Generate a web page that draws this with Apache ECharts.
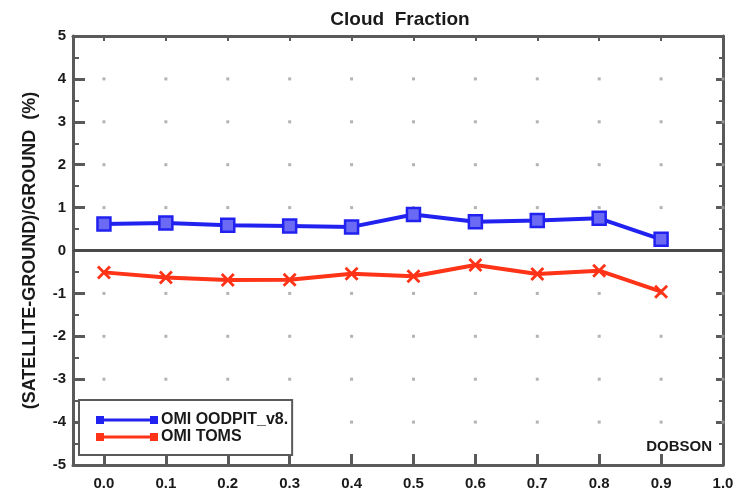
<!DOCTYPE html>
<html>
<head>
<meta charset="utf-8">
<script src="https://cdn.jsdelivr.net/npm/echarts@6/dist/echarts.min.js"></script>
<style>
  html, body { margin: 0; padding: 0; background: #fff; }
  #chart { width: 740px; height: 493px; }
</style>
</head>
<body>
<div id="chart"></div>
<script>
// Cloud fraction bins (x) and relative differences (%) per product
const cloudFraction = [0.0, 0.1, 0.2, 0.3, 0.4, 0.5, 0.6, 0.7, 0.8, 0.9];
const omiSeries1 = [0.62, 0.64, 0.59, 0.57, 0.55, 0.84, 0.67, 0.70, 0.75, 0.26];
const omiToms = [-0.51, -0.63, -0.69, -0.68, -0.54, -0.60, -0.34, -0.55, -0.47, -0.96];
const seriesNames = ['OMI OODPIT_v8.', 'OMI TOMS'];

// Tick positions
const xTicks = [0.0, 0.1, 0.2, 0.3, 0.4, 0.5, 0.6, 0.7, 0.8, 0.9, 1.0];
const yDotRows = [-4, -3, -2, -1, 1, 2, 3, 4];

const FONT = '"Liberation Sans", Arial, sans-serif';
const INK = '#1a1a1a';
const FRAME = '#5a5a5a';
const BLUE = '#2222f0';
const RED = '#ff3318';

// faint dots at grid intersections
const gridDots = [];
xTicks.forEach(x => yDotRows.forEach(y => gridDots.push([x, y])));

// legend sample: short line with a small square at each end
const legendIcon = 'path://M0,0 h8 v8 h-8 Z M54,0 h8 v8 h-8 Z M8,2.5 h46 v3 h-46 Z';
const crossIcon = 'path://M0,2 L2,0 L7,5 L12,0 L14,2 L9,7 L14,12 L12,14 L7,9 L2,14 L0,12 L5,7 Z';

const chart = echarts.init(document.getElementById('chart'), null, { renderer: 'canvas' });

chart.setOption({
  animation: false,
  backgroundColor: '#fff',
  title: {
    text: 'Cloud  Fraction',
    left: 395, textAlign: 'center', top: 5,
    textStyle: { fontFamily: FONT, fontWeight: 'bold', fontSize: 19, color: INK }
  },
  grid: { left: 73, right: 17, top: 36, bottom: 28, containLabel: false },
  legend: {
    orient: 'vertical',
    left: 79, top: 400,
    padding: [12, 4, 10, 17],
    itemWidth: 62, itemHeight: 8, itemGap: 1,
    borderColor: FRAME, borderWidth: 2, backgroundColor: '#fff',
    textStyle: { fontFamily: FONT, fontWeight: 'bold', fontSize: 16, lineHeight: 14, color: INK, padding: [0, 0, 0, -2] },
    data: [
      { name: seriesNames[0], icon: legendIcon, itemStyle: { color: BLUE, borderWidth: 0 } },
      { name: seriesNames[1], icon: legendIcon, itemStyle: { color: RED, borderWidth: 0 } }
    ]
  },
  xAxis: [
    {
      type: 'value', position: 'bottom', min: -0.05, max: 1.0,
      axisLine: { show: true, onZero: false, lineStyle: { color: FRAME, width: 3 } },
      axisTick: { show: true, inside: true, length: 11, customValues: xTicks, lineStyle: { color: FRAME, width: 3 } },
      axisLabel: {
        customValues: xTicks, margin: 11,
        formatter: v => v.toFixed(1),
        fontFamily: FONT, fontWeight: 'bold', fontSize: 15, color: INK
      },
      splitLine: { show: false }
    },
    {
      type: 'value', position: 'top', min: -0.05, max: 1.0,
      axisLine: { show: true, onZero: false, lineStyle: { color: FRAME, width: 3 } },
      axisTick: { show: true, inside: true, length: 5, customValues: xTicks, lineStyle: { color: FRAME, width: 2 } },
      axisLabel: { show: false },
      splitLine: { show: false }
    }
  ],
  yAxis: [
    {
      type: 'value', position: 'left', min: -5, max: 5, interval: 1,
      name: '(SATELLITE-GROUND)/GROUND  (%)',
      nameLocation: 'middle', nameRotate: 90, nameGap: 34,
      nameTextStyle: { fontFamily: FONT, fontWeight: 'bold', fontSize: 18, color: INK },
      axisLine: { show: true, onZero: false, lineStyle: { color: FRAME, width: 3 } },
      axisTick: { show: true, inside: true, length: 12, lineStyle: { color: FRAME, width: 3 } },
      minorTick: { show: true, splitNumber: 2, length: 6, lineStyle: { color: FRAME, width: 2 } },
      axisLabel: { margin: 7, fontFamily: FONT, fontWeight: 'bold', fontSize: 15, color: INK },
      splitLine: { show: false }
    },
    {
      type: 'value', position: 'right', min: -5, max: 5, interval: 1,
      axisLine: { show: true, onZero: false, lineStyle: { color: FRAME, width: 3 } },
      axisTick: { show: true, inside: true, length: 7, lineStyle: { color: FRAME, width: 3 } },
      minorTick: { show: true, splitNumber: 2, length: 4, lineStyle: { color: FRAME, width: 2 } },
      axisLabel: { show: false },
      splitLine: { show: false }
    }
  ],
  graphic: [
    {
      type: 'text', right: 28, top: 439, z: 10,
      style: { text: 'DOBSON', fontFamily: FONT, fontWeight: 'bold', fontSize: 15, fill: INK }
    }
  ],
  series: [
    {
      name: 'grid-dots', type: 'scatter', silent: true, z: 1,
      symbol: 'rect', symbolSize: 3,
      itemStyle: { color: '#a0a0a0' },
      data: gridDots,
      markLine: {
        silent: true, symbol: 'none', label: { show: false },
        lineStyle: { color: '#4a4a4a', width: 3, type: 'solid' },
        data: [{ yAxis: 0 }]
      }
    },
    {
      name: seriesNames[0], type: 'line', z: 3,
      data: cloudFraction.map((x, i) => [x, omiSeries1[i]]),
      symbol: 'rect', symbolSize: 13,
      lineStyle: { color: BLUE, width: 4 },
      itemStyle: { color: '#6a6af5', borderColor: BLUE, borderWidth: 2.5 }
    },
    {
      name: seriesNames[1], type: 'line', z: 3,
      data: cloudFraction.map((x, i) => [x, omiToms[i]]),
      symbol: crossIcon, symbolSize: 14,
      lineStyle: { color: RED, width: 4 },
      itemStyle: { color: RED }
    }
  ]
});
</script>
</body>
</html>
